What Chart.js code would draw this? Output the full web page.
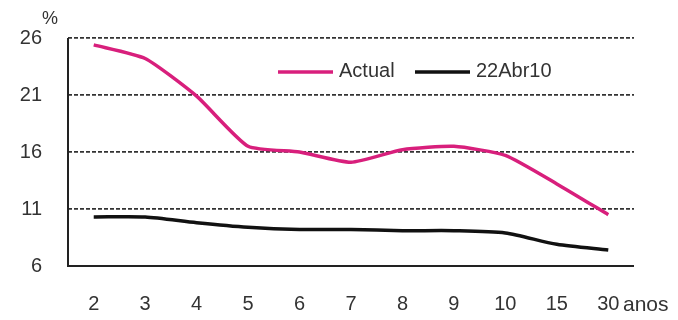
<!DOCTYPE html>
<html>
<head>
<meta charset="utf-8">
<script src="https://cdn.jsdelivr.net/npm/chart.js@4"></script>
<style>
  html, body { margin: 0; padding: 0; background: #fff; }
  #wrap { width: 678px; height: 320px; }
</style>
</head>
<body>
<div id="wrap"><canvas id="curve" width="678" height="320"></canvas></div>
<script>
const maturities = ['2', '3', '4', '5', '6', '7', '8', '9', '10', '15', '30'];
const actual = [25.4, 24.2, 20.9, 16.5, 16.0, 15.1, 16.2, 16.5, 15.7, 13.2, 10.5];
const abr10 = [10.3, 10.3, 9.8, 9.4, 9.2, 9.2, 9.1, 9.1, 8.9, 7.9, 7.4];
const yTicks = [6, 11, 16, 21, 26];

const FONT = 'Arial, "Liberation Sans", sans-serif';
const PINK = '#d81f7c';

// legend inside the plot plus the "%" and "anos" labels
const extras = {
    id: 'extras',
    afterDatasetsDraw(chart) {
        const ctx = chart.ctx;
        const area = chart.chartArea;
        ctx.save();
        ctx.font = '20px ' + FONT;
        ctx.textBaseline = 'middle';
        ctx.textAlign = 'left';
        const items = [
            { x: 278, color: PINK, text: chart.data.datasets[0].label },
            { x: 415, color: '#111', text: chart.data.datasets[1].label }
        ];
        items.forEach(it => {
            ctx.strokeStyle = it.color;
            ctx.lineWidth = 3.5;
            ctx.beginPath();
            ctx.moveTo(it.x, 72);
            ctx.lineTo(it.x + 55, 72);
            ctx.stroke();
            ctx.fillStyle = '#333';
            ctx.fillText(it.text, it.x + 61, 71);
        });
        ctx.font = '18px ' + FONT;
        ctx.fillText('%', 42, 19);
        ctx.font = '21px ' + FONT;
        ctx.fillText('anos', 623, 305);
        // solid axes
        ctx.strokeStyle = '#222';
        ctx.lineWidth = 2;
        ctx.beginPath();
        ctx.moveTo(area.left, area.top);
        ctx.lineTo(area.left, area.bottom);
        ctx.lineTo(area.right, area.bottom);
        ctx.stroke();
        ctx.restore();
    }
};

new Chart(document.getElementById('curve'), {
    type: 'line',
    data: {
        labels: maturities,
        datasets: [
            {
                label: 'Actual',
                data: actual,
                borderColor: PINK,
                borderWidth: 3.5,
                pointRadius: 0,
                tension: 0.18,
                fill: false
            },
            {
                label: '22Abr10',
                data: abr10,
                borderColor: '#111',
                borderWidth: 3.5,
                pointRadius: 0,
                tension: 0.25,
                fill: false
            }
        ]
    },
    options: {
        responsive: false,
        animation: false,
        layout: { padding: { top: 38, right: 44, left: 0, bottom: 0 } },
        plugins: {
            legend: { display: false },
            tooltip: { enabled: false }
        },
        scales: {
            x: {
                offset: true,
                grid: { display: false, drawTicks: false },
                border: { display: false },
                ticks: {
                    padding: 26,
                    color: '#333',
                    font: { family: FONT, size: 20 }
                },
                afterFit: s => { s.height = 54; }
            },
            y: {
                min: 6,
                max: 26,
                afterBuildTicks: s => { s.ticks = yTicks.map(v => ({ value: v })); },
                grid: {
                    drawTicks: false,
                    color: ctx => ctx.tick && ctx.tick.value === 6 ? 'rgba(0,0,0,0)' : '#333',
                    lineWidth: 1.8
                },
                border: { display: false, dash: [4, 2] },
                ticks: {
                    padding: 26,
                    color: '#333',
                    font: { family: FONT, size: 20 }
                },
                afterFit: s => { s.width = 68; }
            }
        }
    },
    plugins: [extras]
});
</script>
</body>
</html>
